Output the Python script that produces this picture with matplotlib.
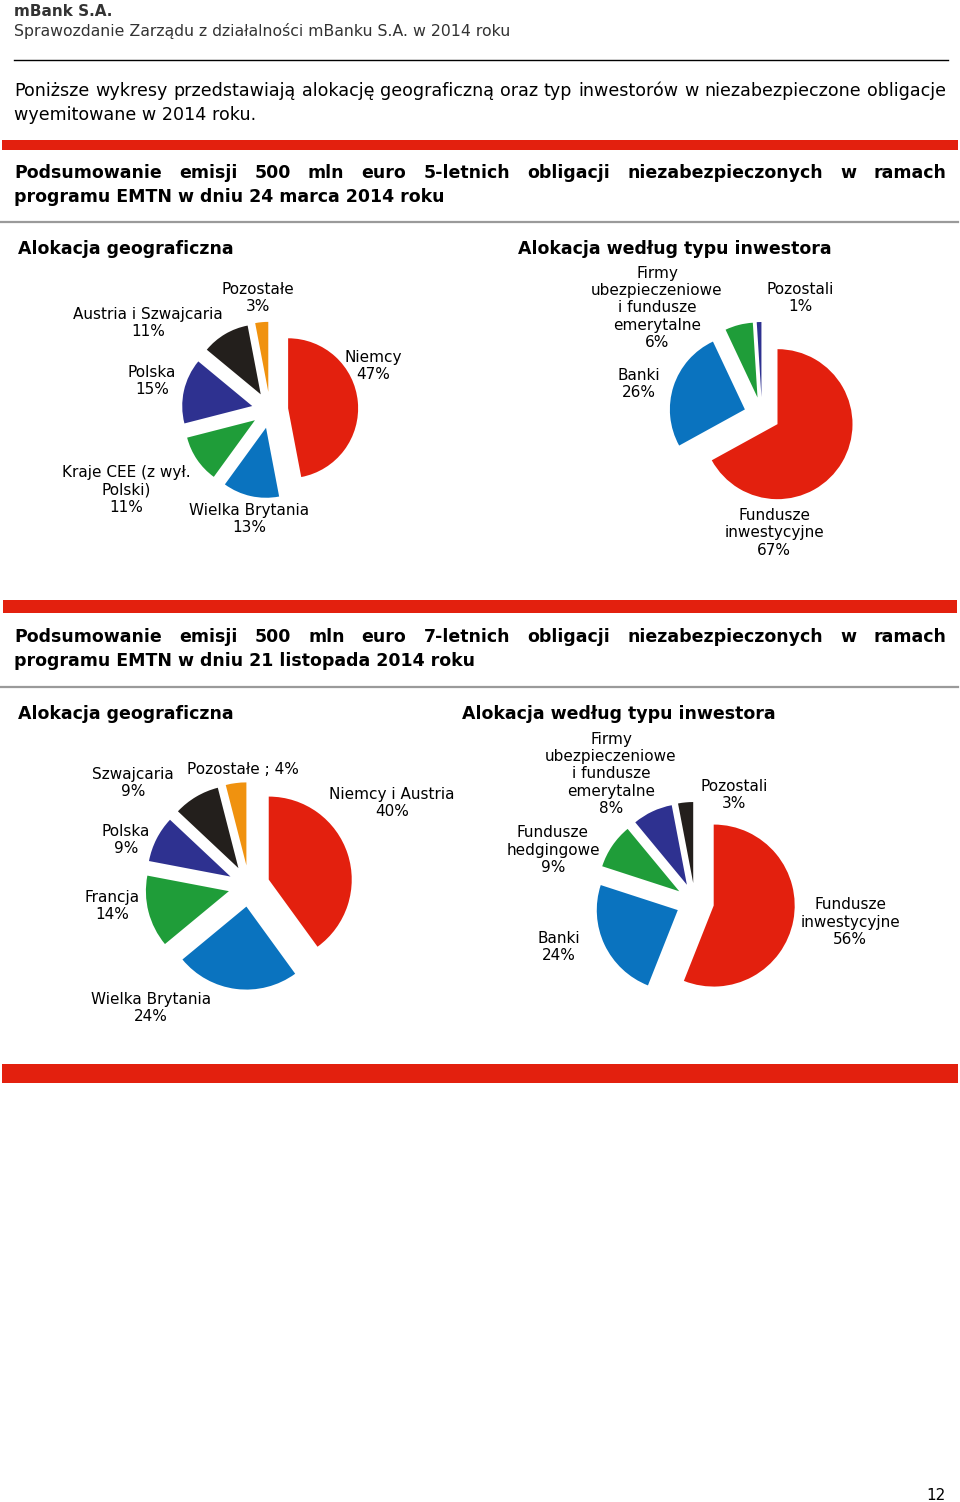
import matplotlib
matplotlib.use('Agg')
import matplotlib.pyplot as plt
from matplotlib.patches import Rectangle
from matplotlib.lines import Line2D

plt.rcParams['font.family'] = ['DejaVu Sans']

# --- dane ---
geo1_labels = ['Niemcy', 'Wielka Brytania', 'Kraje CEE (z wył.\nPolski)', 'Polska',
               'Austria i Szwajcaria', 'Pozostałe']
geo1_values = [47, 13, 11, 15, 11, 3]

inv1_labels = ['Fundusze\ninwestycyjne', 'Banki',
               'Firmy\nubezpieczeniowe\ni fundusze\nemerytalne', 'Pozostali']
inv1_values = [67, 26, 6, 1]

geo2_labels = ['Niemcy i Austria', 'Wielka Brytania', 'Francja', 'Polska',
               'Szwajcaria', 'Pozostałe']
geo2_values = [40, 24, 14, 9, 9, 4]

inv2_labels = ['Fundusze\ninwestycyjne', 'Banki', 'Fundusze\nhedgingowe',
               'Firmy\nubezpieczeniowe\ni fundusze\nemerytalne', 'Pozostali']
inv2_values = [56, 24, 9, 8, 3]

# --- kolory ---
RED = '#e3200e'
BLUE = '#0a73bf'
GREEN = '#1f9d39'
NAVY = '#2e3190'
BLACK = '#231f1c'
ORANGE = '#f0920f'
geo_colors = [RED, BLUE, GREEN, NAVY, BLACK, ORANGE]
inv1_colors = [RED, BLUE, GREEN, NAVY]
inv2_colors = [RED, BLUE, GREEN, NAVY, BLACK]

W, H = 960, 1502
fig = plt.figure(figsize=(W / 100, H / 100), dpi=100)


def fx(x):
    return x / W


def fy(y):
    return 1 - y / H


def txt(x, y, s, size=11, weight='normal', ha='left', color='black', **kw):
    return fig.text(fx(x), fy(y), s, fontsize=size, fontweight=weight, ha=ha,
                    va='center', color=color, **kw)


def justified(line, y, x0, x1, size, weight='normal'):
    words = line.split()
    rend = fig.canvas.get_renderer()
    items = [txt(0, y, w, size=size, weight=weight) for w in words]
    widths = [t.get_window_extent(rend).width for t in items]
    gap = (x1 - x0 - sum(widths)) / (len(words) - 1)
    x = x0
    for t, w in zip(items, widths):
        t.set_x(fx(x))
        x += w + gap


def hline(y, x0, x1, color, lw):
    fig.add_artist(Line2D([fx(x0), fx(x1)], [fy(y), fy(y)], color=color, lw=lw))


def red_bar(y0, y1, x0=2, x1=958):
    fig.add_artist(Rectangle((fx(x0), fy(y1)), fx(x1) - fx(x0), (y1 - y0) / H,
                             facecolor=RED, edgecolor='none'))


def draw_pie(cx, cy, r, values, colors, explode, box=320):
    ax = fig.add_axes([fx(cx - box / 2), fy(cy + box / 2), box / W, box / H])
    ax.pie(values, colors=colors, startangle=90, counterclock=False,
           explode=[explode] * len(values), wedgeprops=dict(linewidth=0))
    lim = box / 2 / r
    ax.set_xlim(-lim, lim)
    ax.set_ylim(-lim, lim)
    ax.set_aspect('equal')
    ax.axis('off')


def pie_labels(labels, values, positions, seps=None):
    for i, (lab, val, (x, y)) in enumerate(zip(labels, values, positions)):
        sep = seps[i] if seps else '\n'
        txt(x, y, f'{lab}{sep}{val}%', size=11, ha='center',
            multialignment='center', linespacing=1.18)


# --- nagłówek strony ---
txt(14, 12, 'mBank S.A.', size=11, weight='bold', color='#333333')
txt(14, 31, 'Sprawozdanie Zarządu z działalności mBanku S.A. w 2014 roku',
    size=11.3, color='#333333')
hline(60, 14, 948, 'black', 1)

justified('Poniższe wykresy przedstawiają alokację geograficzną oraz typ inwestorów '
          'w niezabezpieczone obligacje', 91, 14, 946, 12.6)
txt(14, 115, 'wyemitowane w 2014 roku.', size=12.6)

# --- sekcja 1 ---
red_bar(140, 150)
justified('Podsumowanie emisji 500 mln euro 5-letnich obligacji niezabezpieczonych '
          'w ramach', 173, 14, 946, 12.5, 'bold')
txt(14, 197, 'programu EMTN w dniu 24 marca 2014 roku', size=12.5, weight='bold')
hline(222, 0, 958, '#9a9a9a', 1.6)

txt(18, 249, 'Alokacja geograficzna', size=12.5, weight='bold')
txt(518, 249, 'Alokacja według typu inwestora', size=12.5, weight='bold')

draw_pie(270, 410, 70, geo1_values, geo_colors, 0.26)
pie_labels(geo1_labels, geo1_values,
           [(373, 366), (249, 519), (126, 490), (152, 381), (148, 323), (258, 298)])

draw_pie(762, 415, 75, inv1_values, inv1_colors, 0.24)
pie_labels(inv1_labels, inv1_values,
           [(774, 533), (639, 384), (657, 308), (800, 298)])

# --- sekcja 2 ---
red_bar(600, 613, 3, 957)
justified('Podsumowanie emisji 500 mln euro 7-letnich obligacji niezabezpieczonych '
          'w ramach', 637, 14, 946, 12.5, 'bold')
txt(14, 661, 'programu EMTN w dniu 21 listopada 2014 roku', size=12.5, weight='bold')
hline(687, 0, 958, '#9a9a9a', 1.6)

txt(18, 714, 'Alokacja geograficzna', size=12.5, weight='bold')
txt(462, 714, 'Alokacja według typu inwestora', size=12.5, weight='bold')

draw_pie(249, 886, 83, geo2_values, geo_colors, 0.25)
pie_labels(geo2_labels, geo2_values,
           [(392, 803), (151, 1008), (112, 906), (126, 840), (133, 783), (243, 769)],
           seps=['\n', '\n', '\n', '\n', '\n', ' ; '])

draw_pie(695, 902, 81, inv2_values, inv2_colors, 0.235)
pie_labels(inv2_labels, inv2_values,
           [(850, 922), (559, 947), (553, 850), (611, 774), (734, 795)])

red_bar(1064, 1083)

txt(946, 1495, '12', size=11, ha='right')

fig.savefig('out.png', dpi=100)
